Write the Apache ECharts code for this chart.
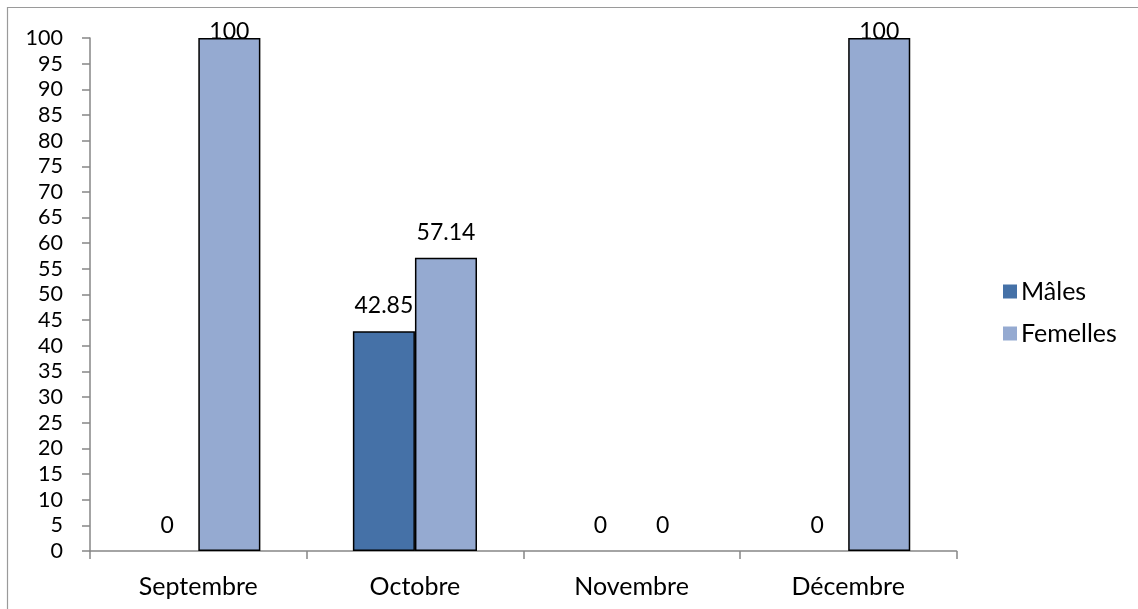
<!DOCTYPE html>
<html>
<head>
<meta charset="utf-8">
<script src="https://cdn.jsdelivr.net/npm/echarts@6/dist/echarts.min.js"></script>
<style>
  html, body { margin: 0; padding: 0; background: #fff; }
  #chart { width: 1138px; height: 609px; }
</style>
</head>
<body>
<div id="chart"></div>
<script>
// Monthly sex ratio (%)
const months = ['Septembre', 'Octobre', 'Novembre', 'Décembre'];
const males = [0, 42.85, 0, 0];
const femelles = [100, 57.14, 0, 100];
const yTicks = { min: 0, max: 100, interval: 5 };

const FONT = 'Lato';
const colors = { males: '#4571A7', femelles: '#95AAD1' };

function toItems(values) {
  return values.map(v => ({
    value: v,
    itemStyle: v === 0 ? { borderWidth: 0 } : {},
    label: { distance: v >= 100 ? -5 : 14 }
  }));
}

function barSeries(name, values, color) {
  return {
    name: name,
    type: 'bar',
    data: toItems(values),
    barGap: '0%',
    barCategoryGap: '42.7%',
    itemStyle: { color: color, borderColor: '#000', borderWidth: 1.5 },
    label: {
      show: true,
      position: 'top',
      color: '#000',
      fontFamily: FONT,
      fontSize: 23
    }
  };
}

const chart = echarts.init(document.getElementById('chart'));
chart.setOption({
  animation: false,
  backgroundColor: '#fff',
  graphic: [{
    type: 'rect',
    shape: { x: 7.5, y: 7.5, width: 1300, height: 800 },
    style: { fill: 'none', stroke: '#9a9a9a', lineWidth: 1.2 },
    silent: true
  }],
  grid: { left: 90, top: 38, right: 181.5, bottom: 58, containLabel: false },
  legend: {
    orient: 'vertical',
    left: 998,
    top: 274,
    itemWidth: 14,
    itemHeight: 14,
    itemGap: 17,
    icon: 'rect',
    itemStyle: { borderWidth: 0 },
    textStyle: { fontFamily: FONT, fontSize: 25, color: '#000', padding: [0, 0, 0, -1] },
    data: ['Mâles', 'Femelles']
  },
  xAxis: {
    type: 'category',
    data: months,
    axisLine: { lineStyle: { color: '#868686', width: 1.5 } },
    axisTick: { show: true, length: 8, alignWithLabel: false, lineStyle: { color: '#868686', width: 1.5 } },
    axisLabel: { color: '#000', fontFamily: FONT, fontSize: 25, margin: 23 },
    splitLine: { show: false }
  },
  yAxis: {
    type: 'value',
    min: yTicks.min,
    max: yTicks.max,
    interval: yTicks.interval,
    axisLine: { show: true, lineStyle: { color: '#868686', width: 1.5 } },
    axisTick: { show: true, length: 8, lineStyle: { color: '#868686', width: 1.5 } },
    axisLabel: { color: '#000', fontFamily: FONT, fontSize: 21.5, margin: 27 },
    splitLine: { show: false }
  },
  series: [
    barSeries('Mâles', males, colors.males),
    barSeries('Femelles', femelles, colors.femelles)
  ]
});
</script>
</body>
</html>
